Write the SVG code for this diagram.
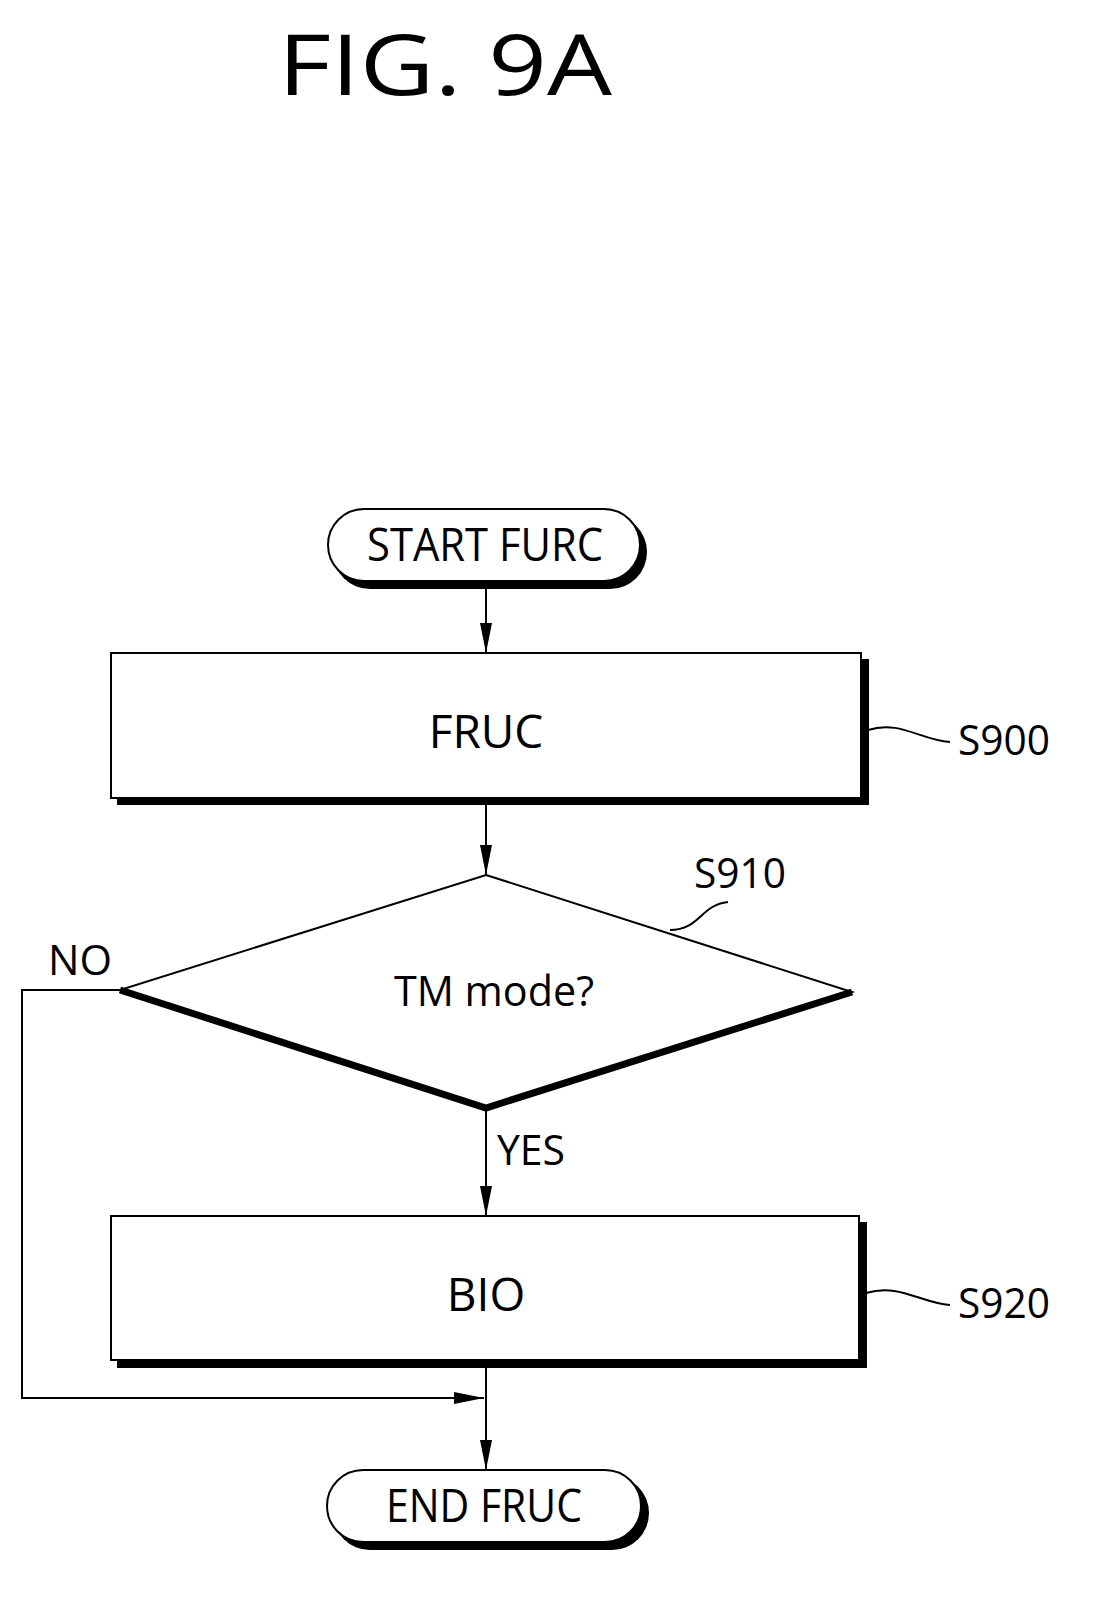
<svg xmlns="http://www.w3.org/2000/svg" width="1104" height="1620" viewBox="0 0 1104 1620">
<style>
text{font-family:"Open Sans","DejaVu Sans",sans-serif;fill:#000}
.t{font-size:46px;text-anchor:middle}
.s{fill:#fff;stroke:#000;stroke-width:2}
.sh{fill:#000}
.c{fill:none;stroke:#000;stroke-width:2}
.lb{font-size:42px}
</style>
<defs>
<marker id="a" markerWidth="30" markerHeight="12" refX="30" refY="6" orient="auto" markerUnits="userSpaceOnUse" viewBox="0 0 30 12"><path d="M0,0 L30,6 L0,12 Z"/></marker>
</defs>
<text x="445" y="95" style="font-size:84px;text-anchor:middle" textLength="334" lengthAdjust="spacingAndGlyphs">FIG. 9A</text>
<g id="start">
<rect x="333" y="515" width="314" height="74" rx="37" class="sh"/>
<rect x="328" y="509" width="312" height="72" rx="36" class="s"/>
<text x="485" y="561" class="t" textLength="236" lengthAdjust="spacingAndGlyphs">START FURC</text>
</g>
<g id="s900">
<rect x="117" y="659" width="752" height="146" class="sh"/>
<rect x="111" y="653" width="750" height="145" class="s"/>
<text x="486" y="748" class="t">FRUC</text>
<path class="c" d="M868,730 C900,720 920,740 950,742"/>
<text x="958" y="755" class="lb" textLength="92" lengthAdjust="spacingAndGlyphs">S900</text>
</g>
<g id="s910">
<polygon points="486,875 852,992 486,1108 120,990" class="s"/>
<path d="M120,990 L486,1108 L852,992" fill="none" stroke="#000" stroke-width="7"/>
<text x="494" y="1006" class="t" style="font-size:42px" textLength="200" lengthAdjust="spacingAndGlyphs">TM mode?</text>
<path class="c" d="M670,930 C700,930 700,905 728,902"/>
<text x="694" y="888" class="lb" textLength="92" lengthAdjust="spacingAndGlyphs">S910</text>
</g>
<g id="s920">
<rect x="117" y="1222" width="750" height="146" class="sh"/>
<rect x="111" y="1216" width="748" height="144" class="s"/>
<text x="486" y="1311" class="t">BIO</text>
<path class="c" d="M866,1293 C900,1283 920,1303 950,1305"/>
<text x="958" y="1318" class="lb" textLength="92" lengthAdjust="spacingAndGlyphs">S920</text>
</g>
<g id="end">
<rect x="333" y="1476" width="316" height="74" rx="37" class="sh"/>
<rect x="327" y="1470" width="314" height="72" rx="36" class="s"/>
<text x="484" y="1522" class="t" textLength="196" lengthAdjust="spacingAndGlyphs">END FRUC</text>
</g>
<g id="connectors">
<line x1="486" y1="589" x2="486" y2="653" class="c" marker-end="url(#a)"/>
<line x1="486" y1="805" x2="486" y2="875" class="c" marker-end="url(#a)"/>
<line x1="486" y1="1108" x2="486" y2="1216" class="c" marker-end="url(#a)"/>
<line x1="486" y1="1368" x2="486" y2="1470" class="c" marker-end="url(#a)"/>
<polyline points="120,990 22,990 22,1398 484,1398" class="c" marker-end="url(#a)"/>
<text x="48" y="975" class="lb" textLength="64" lengthAdjust="spacingAndGlyphs">NO</text>
<text x="497" y="1165" class="lb" textLength="68" lengthAdjust="spacingAndGlyphs">YES</text>
</g>
</svg>
